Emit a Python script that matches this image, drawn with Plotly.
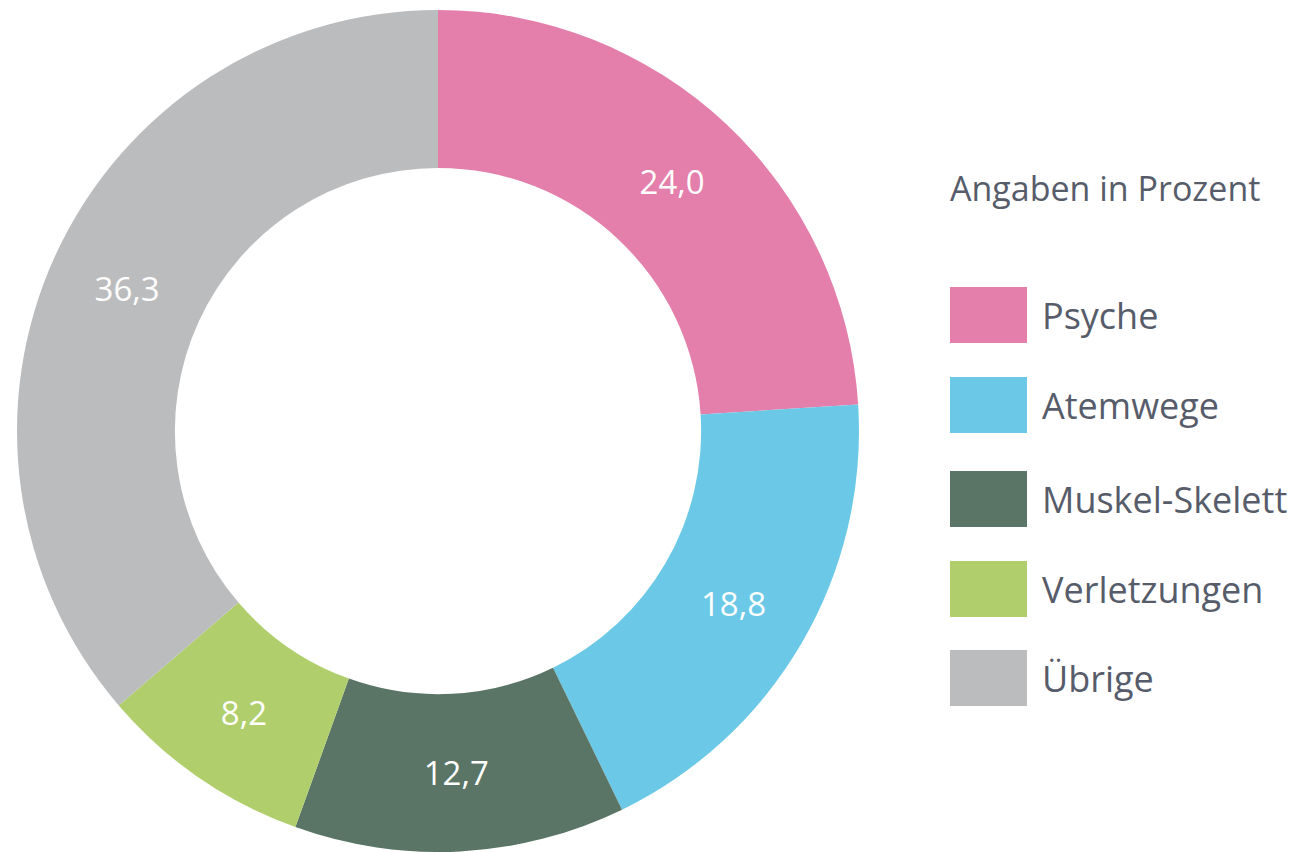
import plotly.graph_objects as go

categories = ["Psyche", "Atemwege", "Muskel-Skelett", "Verletzungen", "Übrige"]
values = [24.0, 18.8, 12.7, 8.2, 36.3]
colors = ["#E37FAA", "#6BC9E7", "#5A7565", "#B0CF6C", "#BBBCBE"]
legend_title = "Angaben in Prozent"

labels_text = [f"{v:.1f}".replace(".", ",") for v in values]

# page body adds an 8px margin; figure is sized to fill the window
OFF = 8
W, H = 1296 - OFF, 852 - OFF
FONT = "Open Sans"
TXT = "#575C6A"


def px(x):
    return (x - OFF) / W


def py(y):
    return 1 - (y - OFF) / H


cx, cy, R = 438, 431, 421

fig = go.Figure()
fig.add_trace(go.Pie(
    labels=categories,
    values=values,
    text=labels_text,
    textinfo="text",
    textposition="inside",
    insidetextorientation="horizontal",
    textfont=dict(family=FONT, size=33, color="white"),
    marker=dict(colors=colors, line=dict(width=0)),
    hole=0.625,
    sort=False,
    direction="clockwise",
    rotation=0,
    showlegend=False,
    domain=dict(x=[px(cx - R), px(cx + R)], y=[py(cy + R), py(cy - R)]),
))

# custom legend (paper coordinates)
shapes = []
annotations = []
sw_x0, sw_x1 = 950, 1027
sw_tops = [287, 377, 471, 561, 650]
sw_h = 56
for cat, col, top in zip(categories, colors, sw_tops):
    shapes.append(dict(type="rect", xref="paper", yref="paper",
                       x0=px(sw_x0), x1=px(sw_x1),
                       y0=py(top + sw_h), y1=py(top),
                       fillcolor=col, line=dict(width=0)))
    annotations.append(dict(xref="paper", yref="paper",
                            x=px(1040), y=py(top + sw_h / 2),
                            xanchor="left", yanchor="middle",
                            text=cat, showarrow=False,
                            font=dict(family=FONT, size=36, color=TXT)))
annotations.append(dict(xref="paper", yref="paper",
                        x=px(948), y=py(188),
                        xanchor="left", yanchor="middle",
                        text=legend_title, showarrow=False,
                        font=dict(family=FONT, size=34, color=TXT)))

fig.update_layout(
    width=W, height=H,
    margin=dict(l=0, r=0, t=0, b=0),
    paper_bgcolor="white",
    plot_bgcolor="white",
    shapes=shapes,
    annotations=annotations,
)

fig.write_html("out.html")
